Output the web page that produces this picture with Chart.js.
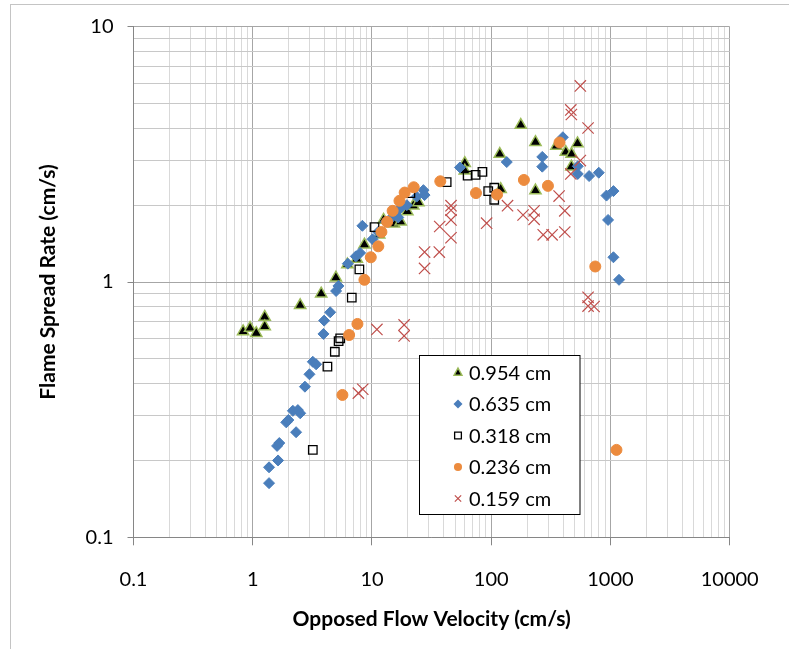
<!DOCTYPE html>
<html>
<head>
<meta charset="utf-8">
<script src="https://cdn.jsdelivr.net/npm/chart.js@4.4.1/dist/chart.umd.min.js"></script>
<style>
  html, body { margin: 0; padding: 0; background: #fff; overflow: hidden; }
  #frame { position: absolute; left: 10px; top: 4px; width: 900px; height: 800px; border: 1px solid #c4c4c4; }
  #wrap { position: absolute; left: 0; top: 0; width: 789px; height: 649px; }
</style>
</head>
<body>
<div id="frame"></div>
<div id="wrap"><canvas id="chart" width="789" height="649"></canvas></div>
<script>
// series names (plate thickness)
const seriesNames = ['0.954 cm', '0.635 cm', '0.318 cm', '0.236 cm', '0.159 cm'];

// opposed flow velocity (cm/s) and flame spread rate (cm/s)
const vel954 = [0.83, 0.95, 1.07, 1.26, 1.26, 2.5, 3.75, 4.98, 6.22, 7.46, 8.64, 11.5, 12.5, 15.3, 17.4, 19.8, 22.2, 24.5, 60, 60, 118, 120, 177, 235, 235, 352, 422, 472, 529, 470];
const rate954 = [0.64, 0.66, 0.63, 0.73, 0.67, 0.81, 0.9, 1.04, 1.17, 1.23, 1.4, 1.53, 1.75, 1.69, 1.72, 1.89, 1.99, 2.05, 2.92, 2.73, 3.17, 2.31, 4.12, 3.53, 2.28, 3.41, 3.23, 3.17, 3.49, 2.83];

const vel635 = [1.37, 1.37, 1.63, 1.6, 1.67, 2.31, 1.91, 1.99, 2.17, 2.39, 2.5, 2.74, 2.99, 3.19, 3.4, 3.92, 3.97, 4.46, 5.0, 5.23, 6.27, 7.32, 7.95, 8.31, 10.1, 11.25, 13.1, 14.65, 16.6, 17.2, 19.6, 23.7, 27.0, 27.6, 54.7, 135, 268, 268, 399, 532, 532, 662, 798, 926, 1059, 955, 1059, 1180];
const rate635 = [0.163, 0.188, 0.2, 0.228, 0.234, 0.258, 0.282, 0.288, 0.313, 0.315, 0.306, 0.389, 0.435, 0.487, 0.476, 0.626, 0.706, 0.761, 0.922, 0.965, 1.18, 1.26, 1.3, 1.66, 1.47, 1.57, 1.72, 1.79, 1.79, 1.94, 2.0, 2.16, 2.29, 2.19, 2.81, 2.95, 3.09, 2.83, 3.69, 2.84, 2.65, 2.6, 2.68, 2.18, 2.27, 1.75, 1.25, 1.02];

const vel318 = [3.19, 5.41, 5.25, 4.88, 4.23, 6.77, 7.84, 10.5, 21.0, 42.3, 63.4, 74.0, 84.4, 94.4, 106, 106];
const rate318 = [0.22, 0.602, 0.587, 0.533, 0.466, 0.868, 1.12, 1.64, 2.23, 2.46, 2.61, 2.63, 2.7, 2.27, 2.34, 2.1];

const vel236 = [5.65, 6.43, 7.55, 8.64, 9.77, 11.3, 12.0, 13.4, 14.9, 17.0, 18.8, 22.4, 37.4, 74.5, 112, 188, 299, 374, 746, 1123];
const rate236 = [0.361, 0.62, 0.685, 1.02, 1.25, 1.38, 1.57, 1.72, 1.9, 2.08, 2.24, 2.35, 2.48, 2.23, 2.2, 2.51, 2.38, 3.52, 1.15, 0.22];

const vel159 = [7.69, 8.37, 11.0, 18.6, 18.6, 27.6, 27.6, 36.7, 37.0, 46.0, 46.0, 46.0, 46.0, 91.5, 137, 185, 229, 229, 273, 324, 371, 414, 414, 465, 470, 559, 649, 559, 465, 649, 649, 729];
const rate159 = [0.367, 0.38, 0.652, 0.679, 0.615, 1.31, 1.13, 1.31, 1.65, 1.99, 1.91, 1.75, 1.49, 1.7, 1.99, 1.83, 1.9, 1.76, 1.53, 1.53, 2.17, 1.9, 1.57, 4.72, 4.53, 5.86, 4.01, 2.99, 2.65, 0.871, 0.805, 0.802];

// axis decades
const xDecades = [0.1, 1, 10, 100, 1000, 10000];
const yDecades = [0.1, 1, 10];

function toPoints(xs, ys) {
  return xs.map((x, i) => ({ x: x, y: ys[i] }));
}

// ticks 1..9 in every decade, labels only on the decades
function logTicks(decades) {
  const out = [];
  for (let d = 0; d < decades.length - 1; d++) {
    for (let m = 1; m <= 9; m++) out.push({ value: Number((m * decades[d]).toPrecision(10)) });
  }
  out.push({ value: decades[decades.length - 1] });
  return out;
}
function isDecade(v, decades) {
  return decades.some(d => Math.abs(d - v) < d * 1e-6);
}

const FONT = "Lato, 'Open Sans', sans-serif";

const styles = [
  { pointStyle: 'triangle', radius: 6.5, backgroundColor: '#000000', borderColor: '#9bbb59', borderWidth: 1.5 },
  { pointStyle: 'rectRot', radius: 5.5, backgroundColor: '#4a7ebb', borderColor: '#4a7ebb', borderWidth: 1 },
  { pointStyle: 'rect', radius: 6, backgroundColor: 'rgba(255,255,255,0)', borderColor: '#000000', borderWidth: 1.3 },
  { pointStyle: 'circle', radius: 5.5, backgroundColor: '#ec8b3e', borderColor: '#ec8b3e', borderWidth: 1 },
  { pointStyle: 'crossRot', radius: 8, backgroundColor: '#c0504d', borderColor: '#c0504d', borderWidth: 1.2 }
];
const allData = [
  toPoints(vel954, rate954),
  toPoints(vel635, rate635),
  toPoints(vel318, rate318),
  toPoints(vel236, rate236),
  toPoints(vel159, rate159)
];

// legend box drawn inside the plot
function drawMarker(ctx, style, x, y, r) {
  ctx.beginPath();
  if (style === 'triangle') {
    ctx.moveTo(x, y - r);
    ctx.lineTo(x + r * 0.87, y + r * 0.6);
    ctx.lineTo(x - r * 0.87, y + r * 0.6);
    ctx.closePath();
    ctx.fill(); ctx.stroke();
  } else if (style === 'rectRot') {
    ctx.moveTo(x, y - r); ctx.lineTo(x + r, y); ctx.lineTo(x, y + r); ctx.lineTo(x - r, y);
    ctx.closePath(); ctx.fill();
  } else if (style === 'rect') {
    ctx.rect(x - r * 0.75, y - r * 0.75, r * 1.5, r * 1.5);
    ctx.stroke();
  } else if (style === 'circle') {
    ctx.arc(x, y, r * 0.9, 0, Math.PI * 2); ctx.fill();
  } else {
    const o = r * 0.7;
    ctx.moveTo(x - o, y - o); ctx.lineTo(x + o, y + o);
    ctx.moveTo(x + o, y - o); ctx.lineTo(x - o, y + o);
    ctx.stroke();
  }
}
const boxLegend = {
  id: 'boxLegend',
  afterDatasetsDraw(chart) {
    const ctx = chart.ctx;
    ctx.save();
    ctx.fillStyle = '#ffffff';
    ctx.fillRect(419.5, 355.5, 160.5, 159);
    ctx.strokeStyle = '#000000';
    ctx.lineWidth = 1;
    ctx.strokeRect(419.5, 355.5, 160.5, 159);
    seriesNames.forEach((name, i) => {
      const s = styles[i];
      const y = 372.5 + i * 31.5;
      ctx.fillStyle = s.backgroundColor;
      ctx.strokeStyle = s.borderColor;
      ctx.lineWidth = s.borderWidth;
      drawMarker(ctx, s.pointStyle, 458, y, 4.5);
      ctx.fillStyle = '#000000';
      ctx.font = '20px ' + FONT;
      ctx.textBaseline = 'middle';
      ctx.textAlign = 'left';
      ctx.fillText(name, 469, y + 1);
    });
    ctx.restore();
  }
};

const chart = new Chart(document.getElementById('chart'), {
  type: 'scatter',
  data: {
    datasets: seriesNames.map((name, i) => ({
      label: name,
      data: allData[i],
      pointStyle: styles[i].pointStyle,
      pointRadius: styles[i].radius,
      pointHoverRadius: styles[i].radius,
      backgroundColor: styles[i].backgroundColor,
      borderColor: styles[i].borderColor,
      pointBorderWidth: styles[i].borderWidth,
      borderWidth: styles[i].borderWidth,
      order: seriesNames.length - i
    }))
  },
  options: {
    responsive: false,
    animation: false,
    layout: { padding: { left: 27, top: 26.7, right: 59.3, bottom: 0 } },
    plugins: { legend: { display: false }, tooltip: { enabled: false } },
    scales: {
      x: {
        type: 'logarithmic',
        min: 0.1,
        max: 10000,
        afterBuildTicks: scale => { scale.ticks = logTicks(xDecades); },
        afterFit: scale => { scale.height = 111.7; },
        border: { color: '#868686', width: 1 },
        grid: {
          color: c => isDecade(c.tick.value, xDecades) ? '#a6a6a6' : '#d9d9d9',
          tickColor: c => isDecade(c.tick.value, xDecades) ? '#868686' : 'rgba(0,0,0,0)',
          tickLength: 8
        },
        ticks: {
          autoSkip: false,
          maxRotation: 0,
          padding: 22,
          color: '#000000',
          font: { family: FONT, size: 20 },
          callback: v => isDecade(v, xDecades) ? String(v) : ''
        },
        title: {
          display: true,
          text: 'Opposed Flow Velocity (cm/s)',
          color: '#000000',
          font: { family: FONT, size: 21, weight: 'bold' },
          padding: { top: 0, bottom: 17 }
        }
      },
      y: {
        type: 'logarithmic',
        min: 0.1,
        max: 10,
        afterBuildTicks: scale => { scale.ticks = logTicks(yDecades); },
        afterFit: scale => { scale.width = 106.5; },
        border: { color: '#868686', width: 1 },
        grid: {
          color: c => isDecade(c.tick.value, yDecades) ? '#a6a6a6' : '#c8c8c8',
          tickColor: c => isDecade(c.tick.value, yDecades) ? '#868686' : 'rgba(0,0,0,0)',
          tickLength: 6
        },
        ticks: {
          autoSkip: false,
          padding: 14,
          color: '#000000',
          font: { family: FONT, size: 20 },
          callback: v => isDecade(v, yDecades) ? String(v) : ''
        },
        title: {
          display: true,
          text: 'Flame Spread Rate (cm/s)',
          color: '#000000',
          font: { family: FONT, size: 21, weight: 'bold' },
          padding: { top: 9, bottom: 0 }
        }
      }
    }
  },
  plugins: [boxLegend]
});
</script>
</body>
</html>
